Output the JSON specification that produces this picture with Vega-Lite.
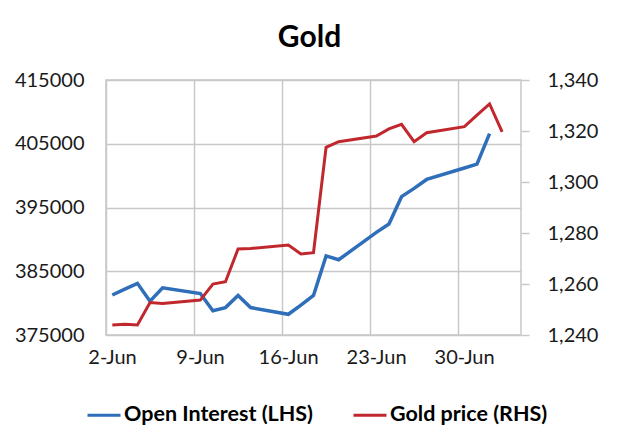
{
  "$schema": "https://vega.github.io/schema/vega-lite/v6.json",
  "width": 415,
  "height": 255,
  "autosize": "none",
  "padding": {"left": 106, "top": 80, "right": 99, "bottom": 105},
  "background": "white",
  "title": {
    "text": "Gold",
    "font": "Lato",
    "fontSize": 30,
    "fontWeight": "bold",
    "color": "#000000",
    "anchor": "middle",
    "offset": 17,
    "dx": -4
  },
  "config": {
    "view": {"stroke": "#c8c8c8", "strokeWidth": 1.5},
    "axis": {
      "labelFont": "Lato",
      "labelFontSize": 20,
      "labelColor": "#1a1a1a",
      "gridColor": "#c8c8c8",
      "gridWidth": 1.5,
      "domain": false,
      "title": null
    },
    "legend": {
      "labelFont": "Lato",
      "labelFontSize": 21.5,
      "labelFontWeight": "bold",
      "labelColor": "#000000",
      "labelLimit": 400
    }
  },
  "data": {
    "values": [
      {"date": "2014-06-02", "oi": 381275, "price": 1243.9},
      {"date": "2014-06-03", "oi": 382200, "price": 1244.2},
      {"date": "2014-06-04", "oi": 383100, "price": 1243.9},
      {"date": "2014-06-05", "oi": 380300, "price": 1252.7},
      {"date": "2014-06-06", "oi": 382400, "price": 1252.4},
      {"date": "2014-06-09", "oi": 381500, "price": 1253.7},
      {"date": "2014-06-10", "oi": 378800, "price": 1260.0},
      {"date": "2014-06-11", "oi": 379300, "price": 1260.9},
      {"date": "2014-06-12", "oi": 381200, "price": 1273.7},
      {"date": "2014-06-13", "oi": 379300, "price": 1273.9},
      {"date": "2014-06-16", "oi": 378250, "price": 1275.3},
      {"date": "2014-06-17", "oi": 379700, "price": 1271.8},
      {"date": "2014-06-18", "oi": 381200, "price": 1272.3},
      {"date": "2014-06-19", "oi": 387400, "price": 1313.6},
      {"date": "2014-06-20", "oi": 386800, "price": 1315.8},
      {"date": "2014-06-23", "oi": 391100, "price": 1318.0},
      {"date": "2014-06-24", "oi": 392400, "price": 1320.8},
      {"date": "2014-06-25", "oi": 396700, "price": 1322.6},
      {"date": "2014-06-26", "oi": 398000, "price": 1315.8},
      {"date": "2014-06-27", "oi": 399400, "price": 1319.3},
      {"date": "2014-06-30", "oi": 401200, "price": 1321.7},
      {"date": "2014-07-01", "oi": 401800, "price": 1326.2},
      {"date": "2014-07-02", "oi": 406600, "price": 1330.6},
      {"date": "2014-07-03", "oi": null, "price": 1319.7}
    ]
  },
  "encoding": {
    "x": {
      "field": "date",
      "type": "temporal",
      "scale": {
        "type": "utc",
        "domain": [
          {"utc": true, "year": 2014, "month": "Jun", "date": 1, "hours": 12},
          {"utc": true, "year": 2014, "month": "Jul", "date": 4, "hours": 12}
        ]
      },
      "axis": {
        "values": [
          {"utc": true, "year": 2014, "month": "Jun", "date": 1, "hours": 12},
          {"utc": true, "year": 2014, "month": "Jun", "date": 8, "hours": 12},
          {"utc": true, "year": 2014, "month": "Jun", "date": 15, "hours": 12},
          {"utc": true, "year": 2014, "month": "Jun", "date": 22, "hours": 12},
          {"utc": true, "year": 2014, "month": "Jun", "date": 29, "hours": 12}
        ],
        "labelExpr": "utcFormat(datum.value + 43200000, '%-d-%b')",
        "labelOffset": 6,
        "labelFlush": false,
        "labelOverlap": false,
        "labelPadding": 12,
        "ticks": false,
        "grid": true
      }
    }
  },
  "layer": [
    {
      "mark": {"type": "line", "strokeWidth": 3.5, "interpolate": "linear"},
      "encoding": {
        "y": {
          "field": "oi",
          "type": "quantitative",
          "scale": {"domain": [375000, 415000], "zero": false, "nice": false},
          "axis": {
            "orient": "left",
            "values": [375000, 385000, 395000, 405000, 415000],
            "format": "d",
            "ticks": false,
            "labelPadding": 22,
            "grid": true
          }
        },
        "color": {
          "datum": "Open Interest (LHS)",
          "type": "nominal",
          "scale": {
            "domain": ["Open Interest (LHS)", "Gold price (RHS)"],
            "range": ["#2f6eb8", "#c0282e"]
          },
          "legend": {
            "orient": "none",
            "direction": "horizontal",
            "legendX": -20,
            "legendY": 317,
            "title": null,
            "symbolType": "stroke",
            "symbolSize": 1089,
            "symbolStrokeWidth": 3,
            "labelOffset": 2,
            "columnPadding": 33,
            "padding": 0
          }
        }
      }
    },
    {
      "mark": {"type": "line", "strokeWidth": 3, "interpolate": "linear"},
      "encoding": {
        "y": {
          "field": "price",
          "type": "quantitative",
          "scale": {"domain": [1240, 1340], "zero": false, "nice": false},
          "axis": {
            "orient": "right",
            "values": [1240, 1260, 1280, 1300, 1320, 1340],
            "format": ",.0f",
            "ticks": true,
            "tickSize": 8,
            "tickColor": "#c8c8c8",
            "tickWidth": 1.5,
            "labelPadding": 18,
            "grid": false
          }
        },
        "color": {"datum": "Gold price (RHS)", "type": "nominal"}
      }
    }
  ],
  "resolve": {"scale": {"y": "independent"}}
}
